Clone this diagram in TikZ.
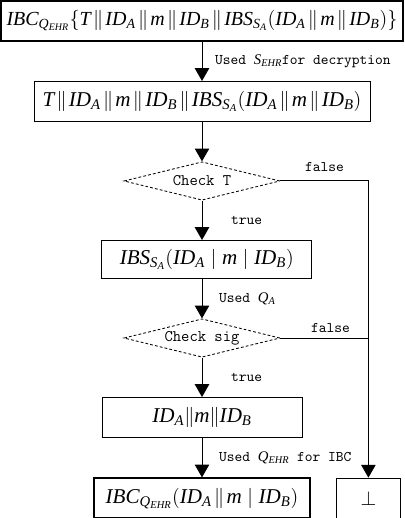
\documentclass[tikz,border=0pt]{standalone}
\usepackage{fontspec}
\setmainfont{Liberation Serif}
\DeclareSymbolFont{letters}{TU}{\rmdefault}{m}{it}
\usetikzlibrary{arrows.meta, positioning, shapes.geometric}
\newcommand{\cat}{\mskip2mu\|\mskip2mu}

\begin{document}
\begin{tikzpicture}[
    node distance=0.985cm and 0.8cm,
    block/.style={rectangle, draw, line width=0.7pt, minimum height=1cm, inner sep=2pt, font=\fontsize{15}{17}\selectfont},
    heavy/.style={line width=1.1pt},
    check/.style={diamond, draw, dash pattern=on 2pt off 1.5pt, line width=0.6pt, aspect=4, minimum width=3.9cm, minimum height=0.96cm, inner sep=0pt, font=\ttfamily\fontsize{11.5}{13}\selectfont},
    arrow/.style={-{Triangle[length=3.2mm, width=3.6mm]}, line width=0.7pt},
    lbl/.style={font=\ttfamily\fontsize{10.5}{12}\selectfont}
]
\useasboundingbox (0,0) rectangle (10.125,-12.95);
\node[block, heavy, minimum width=10.05cm, font=\fontsize{14.2}{16}\selectfont] (dec) at (5.05,-0.52) {$IBC_{Q_{EHR}}\{T\cat ID_A\cat m\cat ID_B\cat IBS_{S_A}(ID_A\cat m\cat ID_B)\}$};
\node[block, minimum width=8.4cm, below=of dec] (plain) {$T\cat ID_A\cat m\cat ID_B\cat IBS_{S_A}(ID_A\cat m\cat ID_B)$};
\node[check, below=of plain] (chkT) {Check T};
\node[block, minimum width=5.25cm, minimum height=0.95cm, below=of chkT, xshift=0.12cm] (sig) {$IBS_{S_A}(ID_A\mid m\mid ID_B)$};
\node[check, below=of sig, xshift=-0.12cm] (chksig) {Check sig};
\node[block, minimum width=5cm, below=of chksig] (msg) {$ID_A\|m\|ID_B$};
\node[block, heavy, minimum width=5.4cm, below=of msg] (enc) {$IBC_{Q_{EHR}}(ID_A\cat m\mid ID_B)$};
\coordinate (rail) at (9.21,0);
\node[block, minimum width=1.6cm] (fail) at (enc -| rail) {$\bot$};

% main flow
\draw[arrow] (dec) -- node[midway, right, xshift=0.2cm, lbl] {Used $S_{EHR}$for decryption} (plain);
\draw[arrow] (plain) -- (chkT);
\draw[arrow] (chkT) -- node[midway, right, xshift=0.6cm, lbl] {true} (sig.north -| chkT);
\draw[arrow] (sig.south -| chksig) -- node[midway, right, xshift=0.3cm, lbl] {Used $Q_A$} (chksig);
\draw[arrow] (chksig) -- node[midway, right, xshift=0.6cm, lbl] {true} (msg);
\draw[arrow] (msg) -- node[midway, right, xshift=0.3cm, lbl] {Used $Q_{EHR}$ for IBC} (enc);

% false branches
\draw[arrow] (chkT.east) -| node[pos=0.25, above, yshift=0.1cm, lbl] {false} (fail);
\draw[line width=0.7pt] (chksig.east) -- node[midway, above, xshift=0.15cm, lbl] {false} (chksig.east -| fail);
\end{tikzpicture}
\end{document}
